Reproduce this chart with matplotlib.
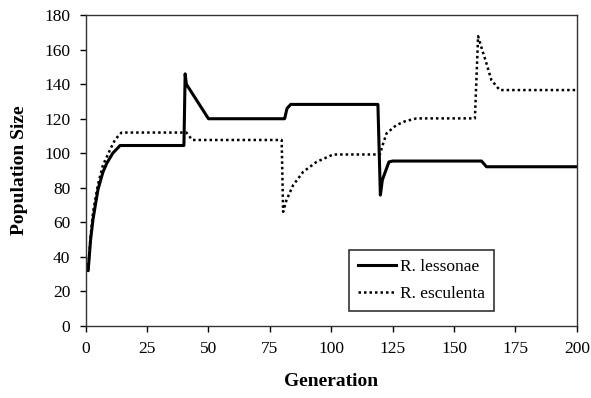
import matplotlib
matplotlib.use("Agg")
import matplotlib.pyplot as plt

# Data
gen_lessonae = [0, 1, 2, 3, 5, 7, 8.5, 11, 14, 40, 40.5, 41, 50, 81, 82, 83.5, 119, 120, 120.8, 122.2, 123.5, 125, 161.2, 163.2, 200]
val_lessonae = [36, 32, 50, 62, 79, 89, 94, 100, 104.5, 104.5, 146, 140, 120, 120, 126, 128.3, 128.3, 75.8, 84.5, 90, 95, 95.5, 95.5, 92.2, 92.2]

gen_esculenta = [0, 1, 2, 3, 5, 7, 9.9, 12, 14.6, 41, 43.4, 79.8, 80.4, 81.8, 84.5, 88.6, 94, 100.8, 119.8, 121, 122.5, 126.5, 130, 134.7, 158.5, 159.8, 161, 163.2, 165.2, 168.6, 200]
val_esculenta = [35, 32, 52, 66, 82, 93, 102, 108, 112, 112, 107.7, 107.7, 66.1, 73, 81.6, 89.3, 95, 99.3, 99.3, 105, 111.5, 116.3, 118.5, 120.2, 120.2, 167.8, 162, 152, 142.4, 136.6, 136.6]

x_ticks = [0, 25, 50, 75, 100, 125, 150, 175, 200]
y_ticks = [0, 20, 40, 60, 80, 100, 120, 140, 160, 180]

plt.rcParams['font.family'] = ['Liberation Serif', 'DejaVu Serif']

fig = plt.figure(figsize=(5.91, 3.98), dpi=100)
ax = fig.add_axes([0.145, 0.181, 0.831, 0.781])

ax.plot(gen_lessonae, val_lessonae, color='black', lw=2.2, linestyle='-', label='R. lessonae')
ax.plot(gen_esculenta, val_esculenta, color='black', lw=1.8, linestyle=(0, (1, 1.2)), label='R. esculenta')

ax.set_xlim(0, 200)
ax.set_ylim(0, 180)
ax.set_xticks(x_ticks)
ax.set_yticks(y_ticks)
ax.tick_params(axis='both', direction='out', length=4, width=1, labelsize=12.5, colors='black', pad=7)
for s in ax.spines.values():
    s.set_color('#333333')
    s.set_linewidth(1.0)

ax.set_xlabel('Generation', fontsize=14, fontweight='bold', labelpad=11)
ax.set_ylabel('Population Size', fontsize=14, fontweight='bold', labelpad=12)

leg = ax.legend(loc='upper left', bbox_to_anchor=(0.536, 0.244),
                fontsize=12.5, frameon=True, fancybox=False, edgecolor='black',
                handlelength=2.2, borderpad=0.5, labelspacing=0.65, handletextpad=0.25,
                borderaxespad=0.0)
leg.get_frame().set_linewidth(1.2)

fig.savefig('out.png', dpi=100)
